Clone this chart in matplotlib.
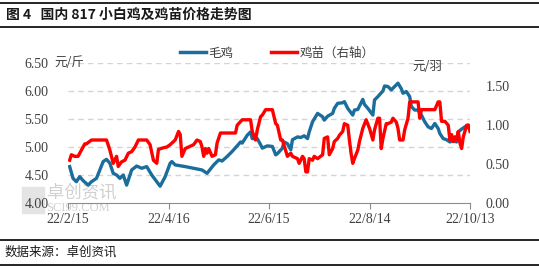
import matplotlib
matplotlib.use("Agg")
import matplotlib.pyplot as plt
import matplotlib.dates as mdates
import matplotlib.ticker as mticker
from matplotlib.lines import Line2D
import pandas as pd

plt.rcParams['font.family'] = ['Noto Sans CJK SC', 'DejaVu Sans']

# 毛鸡 (元/斤), left axis
broiler_dates = ["2/16", "2/18", "2/20", "2/22", "2/24", "2/27", "3/1", "3/4", "3/6", "3/8",
                 "3/10", "3/12", "3/14", "3/16", "3/18", "3/20", "3/22", "3/25", "3/28", "3/31",
                 "4/3", "4/6", "4/9", "4/11", "4/14", "4/17", "4/18", "4/20", "4/26", "5/1",
                 "5/6", "5/9", "5/13", "5/16", "5/18", "5/21", "5/24", "5/27", "5/29", "5/30",
                 "6/2", "6/4", "6/5", "6/8", "6/10", "6/11", "6/14", "6/17", "6/19", "6/20",
                 "6/23", "6/24", "6/26", "6/28", "6/29", "7/2", "7/4", "7/6", "7/8", "7/9",
                 "7/11", "7/14", "7/17", "7/18", "7/20", "7/23", "7/24", "7/26", "7/29", "7/30",
                 "8/1", "8/4", "8/5", "8/7", "8/10", "8/11", "8/13", "8/16", "8/17", "8/19",
                 "8/22", "8/23", "8/25", "8/27", "8/29", "8/31", "9/2", "9/3", "9/5", "9/7",
                 "9/8", "9/10", "9/12", "9/14", "9/16", "9/18", "9/20", "9/22", "9/24", "9/25",
                 "9/27", "9/29", "10/1", "10/3", "10/5", "10/6", "10/8", "10/10", "10/12", "10/13"]
broiler_price = [4.65, 4.44, 4.38, 4.47, 4.40, 4.32, 4.38, 4.44, 4.59, 4.74,
                 4.78, 4.71, 4.53, 4.50, 4.44, 4.50, 4.32, 4.59, 4.66, 4.62,
                 4.65, 4.50, 4.38, 4.30, 4.47, 4.71, 4.74, 4.68, 4.65, 4.62,
                 4.59, 4.53, 4.68, 4.77, 4.75, 4.83, 4.92, 5.02, 5.09, 5.07,
                 5.21, 5.27, 5.15, 5.15, 5.04, 4.98, 5.02, 5.01, 4.86, 4.88,
                 4.98, 5.09, 5.06, 4.95, 5.13, 5.18, 5.17, 5.20, 5.15, 5.27,
                 5.45, 5.60, 5.54, 5.48, 5.55, 5.60, 5.69, 5.78, 5.79, 5.81,
                 5.69, 5.57, 5.66, 5.67, 5.85, 5.76, 5.69, 5.57, 5.84, 5.90,
                 6.00, 6.09, 6.08, 6.02, 6.08, 6.14, 6.04, 5.96, 5.99, 5.90,
                 5.72, 5.66, 5.66, 5.57, 5.45, 5.36, 5.33, 5.42, 5.33, 5.24,
                 5.15, 5.13, 5.09, 5.11, 5.09, 5.27, 5.32, 5.36, 5.39, 5.33]

# 鸡苗 (元/羽), right axis
chick_dates = ["2/16", "2/17", "2/19", "2/21", "2/23", "2/25", "2/26", "3/1", "3/10", "3/12",
               "3/14", "3/16", "3/17", "3/19", "3/21", "3/23", "3/25", "3/27", "3/29", "4/3",
               "4/5", "4/7", "4/9", "4/10", "4/13", "4/15", "4/17", "4/20", "4/22", "4/23",
               "4/24", "4/26", "4/29", "5/1", "5/3", "5/5", "5/6", "5/7", "5/8", "5/9",
               "5/10", "5/12", "5/14", "5/15", "5/17", "5/26", "5/27", "5/30", "6/4", "6/5",
               "6/7", "6/8", "6/10", "6/11", "6/13", "6/17", "6/19", "6/20", "6/22", "6/23",
               "6/26", "6/28", "6/29", "7/2", "7/3", "7/5", "7/6", "7/7", "7/8", "7/9",
               "7/11", "7/12", "7/14", "7/17", "7/18", "7/20", "7/21", "7/23", "7/24", "7/26",
               "7/27", "7/29", "7/30", "8/1", "8/2", "8/3", "8/4", "8/5", "8/7", "8/8",
               "8/10", "8/12", "8/14", "8/16", "8/17", "8/19", "8/20", "8/21", "8/22", "8/24",
               "8/25", "8/27", "8/28", "8/30", "8/31", "9/1", "9/3", "9/4", "9/6", "9/7",
               "9/12", "9/13", "9/14", "9/22", "9/24", "9/25", "9/26", "9/28", "9/30", "10/1",
               "10/2", "10/3", "10/4", "10/5", "10/6", "10/7", "10/8", "10/9", "10/11", "10/12",
               "10/13"]
chick_price = [0.55, 0.62, 0.60, 0.60, 0.68, 0.76, 0.76, 0.81, 0.81, 0.68,
               0.51, 0.60, 0.47, 0.53, 0.55, 0.64, 0.66, 0.72, 0.81, 0.81,
               0.75, 0.55, 0.51, 0.69, 0.71, 0.72, 0.75, 0.81, 0.92, 0.88,
               0.60, 0.70, 0.73, 0.75, 0.81, 0.79, 0.72, 0.60, 0.70, 0.64,
               0.70, 0.60, 0.62, 0.77, 0.90, 0.90, 1.00, 1.07, 1.07, 0.92,
               0.81, 0.94, 1.11, 1.13, 1.20, 1.20, 1.02, 1.00, 0.81, 0.81,
               0.60, 0.64, 0.60, 0.57, 0.51, 0.60, 0.57, 0.40, 0.40, 0.57,
               0.55, 0.60, 0.57, 0.62, 0.83, 0.85, 0.62, 0.70, 0.79, 0.83,
               0.87, 0.92, 1.02, 1.00, 0.81, 0.64, 0.51, 0.57, 0.68, 0.79,
               0.96, 1.07, 0.96, 0.81, 0.94, 1.09, 1.09, 0.70, 0.83, 1.02,
               1.02, 1.04, 1.09, 1.04, 0.96, 0.81, 0.81, 0.94, 1.09, 1.30,
               1.30, 1.09, 1.20, 1.20, 1.30, 1.30, 1.05, 1.05, 1.00, 0.81,
               0.88, 0.79, 0.85, 0.81, 0.92, 0.77, 0.70, 0.85, 1.00, 1.00,
               0.92]

x_ticks = ["2/15", "4/16", "6/15", "8/14", "10/13"]
left_ticks = [4.0, 4.5, 5.0, 5.5, 6.0, 6.5]
right_ticks = [0.0, 0.5, 1.0, 1.5]


def to_date(md):
    return pd.to_datetime("2022/" + md, format="%Y/%m/%d")


blue = "#1b6d9c"
red = "#ff0000"
grey_txt = "#404040"
num_font = "Liberation Serif"

W, H = 539, 269
fig = plt.figure(figsize=(W / 100, H / 100), dpi=100)
ax = fig.add_axes([68 / W, 1 - 203 / H, (470 - 68) / W, (203 - 63) / H])
ax2 = ax.twinx()
ax.patch.set_visible(False)
ax2.patch.set_visible(False)

ax.plot([to_date(d) for d in broiler_dates], broiler_price, color=blue, lw=2.4,
        solid_joinstyle="round", label="毛鸡")
ax2.plot([to_date(d) for d in chick_dates], chick_price, color=red, lw=2.4,
         solid_joinstyle="round", label="鸡苗（右轴）")

ax.set_xlim(to_date("2/15"), to_date("10/13"))
ax.set_ylim(4.0, 6.5)
ax2.set_ylim(0, 1.8)

ax.set_xticks([to_date(d) for d in x_ticks])
ax.xaxis.set_major_formatter(mticker.FuncFormatter(
    lambda v, p: "{}/{}/{}".format(mdates.num2date(v).year % 100,
                                   mdates.num2date(v).month, mdates.num2date(v).day)))
ax.set_yticks(left_ticks)
ax.yaxis.set_major_formatter(mticker.FormatStrFormatter("%.2f"))
ax2.set_yticks(right_ticks)
ax2.yaxis.set_major_formatter(mticker.FormatStrFormatter("%.2f"))

for a in (ax, ax2):
    for s in ("top", "left", "right"):
        a.spines[s].set_visible(False)
ax2.spines["bottom"].set_visible(False)
ax.spines["bottom"].set_color("#8c8c8c")

ax.tick_params(axis="x", direction="out", length=4, color="#8c8c8c", pad=3,
               labelsize=10, labelcolor=grey_txt)
ax.tick_params(axis="y", length=0, pad=14, labelsize=10, labelcolor=grey_txt)
ax2.tick_params(axis="y", length=0, pad=11, labelsize=10, labelcolor=grey_txt)
for lab in ax.get_xticklabels() + ax.get_yticklabels() + ax2.get_yticklabels():
    lab.set_fontfamily(num_font)

for v in left_ticks[1:]:
    ax.axhline(v, color="#d4d4d4", lw=1, ls=(0, (4, 3)), zorder=0)

# unit labels
fig.text(54 / W, 1 - 63 / H, "元/斤", ha="left", va="center", fontsize=9, color=grey_txt)
fig.text(412 / W, 1 - 66 / H, "元/羽", ha="left", va="center", fontsize=9, color=grey_txt)

# legend
handles = [Line2D([], [], color=blue, lw=2.5), Line2D([], [], color=red, lw=2.5)]
fig.legend(handles, ["毛鸡", "鸡苗（右轴）"], ncol=2, frameon=False,
           loc="center", bbox_to_anchor=(277 / W, 1 - 53 / H),
           fontsize=9, handlelength=2.1, handletextpad=0.2, columnspacing=3.0,
           labelcolor=grey_txt)

# watermark
fig.patches.append(plt.Rectangle((22 / W, 1 - 213 / H), 22 / W, 26 / H,
                                 transform=fig.transFigure, color="#e4e4e4", zorder=-1))
fig.text(47 / W, 1 - 192 / H, "卓创资讯", fontsize=12.5, color="#d0d0d0", va="center", zorder=-1)
fig.text(46 / W, 1 - 208 / H, "SCI99.COM", fontsize=9, color="#d0d0d0", va="center",
         family="Liberation Serif", zorder=-1)

# title and footer
fig.text(6 / W, 1 - 15 / H, "图 4   国内 817 小白鸡及鸡苗价格走势图", fontsize=10,
         fontweight="bold", va="center", ha="left", color="#1a1a1a")
fig.text(5 / W, 1 - 252 / H, "数据来源：卓创资讯", fontsize=9, va="center", ha="left",
         color="#1a1a1a")
for yy in (3, 27, 240, 265):
    fig.add_artist(Line2D([0, 1], [1 - yy / H, 1 - yy / H], transform=fig.transFigure,
                          color="black", lw=1.2))

fig.savefig("out.png", dpi=100)
